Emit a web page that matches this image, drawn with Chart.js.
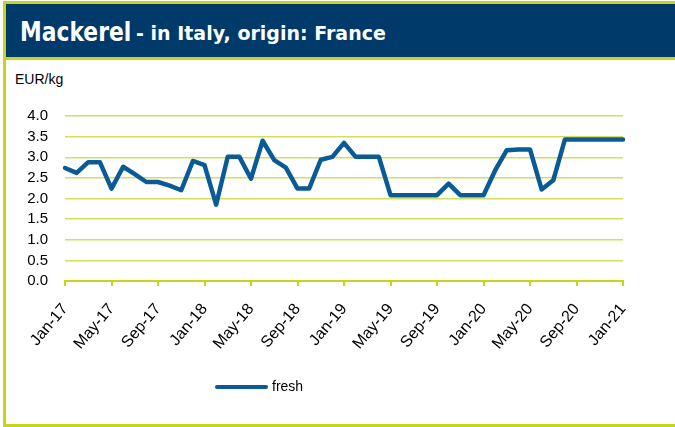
<!DOCTYPE html>
<html>
<head>
<meta charset="utf-8">
<script src="https://cdn.jsdelivr.net/npm/chart.js@4.4.0/dist/chart.umd.min.js"></script>
<style>
  html, body { margin: 0; padding: 0; background: #fff; }
  #wrap { position: relative; width: 675px; height: 427px; overflow: hidden; }
  #frame { position: absolute; left: 3px; top: 57px; width: 680px; height: 364px;
    border-left: 3px solid #c6d51c; border-bottom: 3px solid #c6d51c; border-top: 3px solid #c6d51c; }
  #title { position: absolute; left: 3px; top: 1px; width: 680px; height: 53px;
    background: #003a6b; border: 3px solid #c6d51c; border-right: none; }
  #title span { position: absolute; white-space: nowrap; color: #fff;
    font-family: "DejaVu Sans"; font-weight: bold; transform-origin: left top; }
  #unit { position: absolute; left: 15px; top: 71px; font: 14px "Liberation Sans", Arial, sans-serif; color: #000; }
  #legend { position: absolute; left: 215px; top: 378px; font: 14px "Liberation Sans", Arial, sans-serif; color: #000; }
  #legend i { display: inline-block; width: 53px; height: 4px; border-radius: 2px; background: #0a5a96; vertical-align: middle; margin-right: 4px; }
  canvas { position: absolute; left: 0; top: 0; }
</style>
</head>
<body>
<div id="wrap">
  <div id="frame"></div>
  <div id="title">
    <span style="left:14px;top:13px;font-size:26px;transform:scaleX(0.84);">Mackerel</span>
    <span style="left:130px;top:17px;font-size:20px;transform:scaleX(0.95);">- in Italy, origin: France</span>
  </div>
  <div id="unit">EUR/kg</div>
  <canvas id="myChart" width="675" height="427"></canvas>
  <div id="legend"><i></i>fresh</div>
</div>
<script>
// months Jan-17 .. Jan-21
const months = [
  "Jan-17","Feb-17","Mar-17","Apr-17","May-17","Jun-17","Jul-17","Aug-17","Sep-17","Oct-17","Nov-17","Dec-17",
  "Jan-18","Feb-18","Mar-18","Apr-18","May-18","Jun-18","Jul-18","Aug-18","Sep-18","Oct-18","Nov-18","Dec-18",
  "Jan-19","Feb-19","Mar-19","Apr-19","May-19","Jun-19","Jul-19","Aug-19","Sep-19","Oct-19","Nov-19","Dec-19",
  "Jan-20","Feb-20","Mar-20","Apr-20","May-20","Jun-20","Jul-20","Aug-20","Sep-20","Oct-20","Nov-20","Dec-20",
  "Jan-21"
];

// EUR/kg, fresh
const fresh = [
  2.74, 2.62, 2.88, 2.88, 2.24, 2.77, 2.59, 2.40, 2.40, 2.31, 2.20, 2.91,
  2.81, 1.85, 3.01, 3.01, 2.48, 3.40, 2.93, 2.75, 2.24, 2.24, 2.94, 3.01,
  3.35, 3.01, 3.01, 3.01, 2.08, 2.08, 2.08, 2.08, 2.08, 2.36, 2.08, 2.08,
  2.08, 2.68, 3.17, 3.19, 3.19, 2.22, 2.44, 3.43, 3.43, 3.43, 3.43, 3.43,
  3.43
];

const green = "#c6d51c";
const gridGreen = "#d3df5c";

new Chart(document.getElementById("myChart"), {
  type: "line",
  data: {
    labels: months,
    datasets: [{
      label: "fresh",
      data: fresh,
      borderColor: "#0a5a96",
      borderWidth: 4.5,
      pointRadius: 0,
      tension: 0,
      borderJoinStyle: "round",
      borderCapStyle: "round"
    }]
  },
  options: {
    responsive: false,
    animation: false,
    layout: { padding: { left: 0, right: 52, top: 116, bottom: 46 } },
    plugins: { legend: { display: false }, tooltip: { enabled: false } },
    scales: {
      x: {
        offset: false,
        grid: {
          drawOnChartArea: false,
          drawTicks: true,
          tickLength: 5,
          lineWidth: 2,
          color: (c) => (c.index % 4 === 0 ? green : "rgba(0,0,0,0)")
        },
        border: { display: true, color: green, width: 2 },
        ticks: {
          autoSkip: false,
          maxRotation: 50,
          minRotation: 50,
          padding: 14,
          color: "#000",
          font: { family: "'Liberation Sans', Arial, sans-serif", size: 16 },
          callback: (v, i) => (i % 4 === 0 ? months[i] : "")
        },
        afterFit: (s) => { s.height = 100; }
      },
      y: {
        min: 0,
        max: 4,
        grid: { drawTicks: false, color: gridGreen, lineWidth: 1.5 },
        border: { display: false },
        ticks: {
          stepSize: 0.5,
          autoSkip: false,
          padding: 17,
          color: "#000",
          font: { family: "'Liberation Sans', Arial, sans-serif", size: 15 },
          callback: (v) => v.toFixed(1)
        },
        afterFit: (s) => { s.width = 65; }
      }
    }
  }
});
</script>
</body>
</html>
